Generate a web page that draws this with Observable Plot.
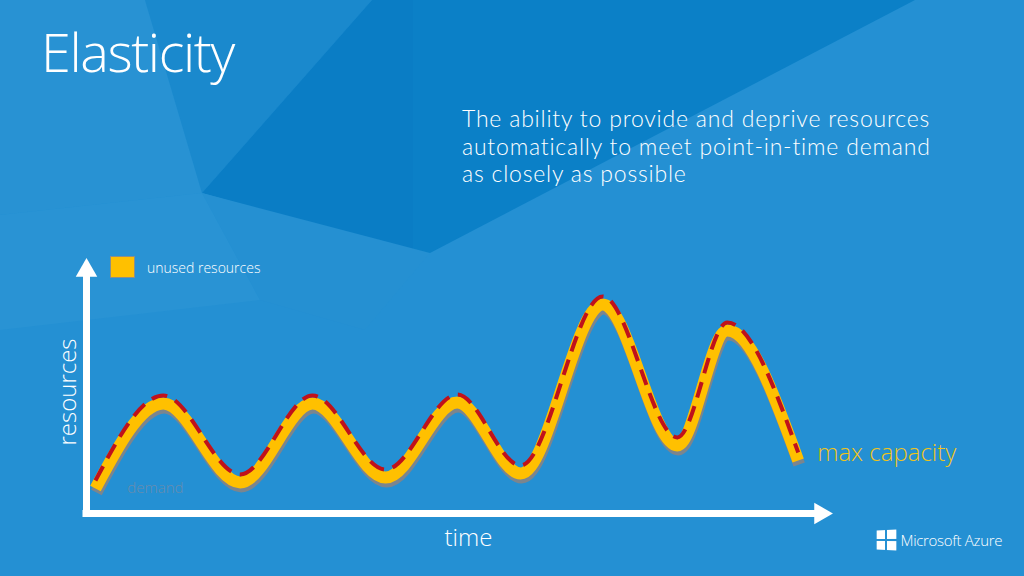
<!DOCTYPE html>
<html>
<head>
<meta charset="utf-8">
<script src="https://cdn.jsdelivr.net/npm/d3@7"></script>
<script src="https://cdn.jsdelivr.net/npm/@observablehq/plot@0.6"></script>
<style>
  html, body { margin: 0; padding: 0; background: #2490d3; }
  #slide { position: relative; width: 1024px; height: 576px; overflow: hidden; background: #2490d3;
           font-family: "Segoe UI Light", "Segoe UI", "Open Sans", "Noto Sans", sans-serif; font-weight: 300; color: #fff; }
  #bg { position: absolute; left: 0; top: 0; }
  #title { position: absolute; left: 41px; top: 24px; font-size: 54px; letter-spacing: -1.4px; line-height: 1; }
  #subtitle { position: absolute; left: 462px; top: 105px; font-family: Lato, "Open Sans", sans-serif; font-size: 23px; letter-spacing: 0.8px; }
  #subtitle div { height: 27.6px; line-height: 27.6px; white-space: nowrap; }
  #legend { position: absolute; left: 110px; top: 256px; display: flex; align-items: center; font-size: 14px; }
  #legend .sw { width: 23px; height: 20px; background: #ffc000; border: 1px solid #8a8f8c; margin-right: 12px; }
  #chart { position: absolute; left: 0; top: 0; }
  #azure { position: absolute; left: 876px; top: 530px; display: flex; align-items: center; font-size: 15px; letter-spacing: -0.3px; }
  #azure .logo { display: grid; grid-template-columns: 9px 9px; grid-template-rows: 9px 9px; gap: 1.5px; margin-right: 5px; transform: perspective(40px) rotateY(-12deg); }
  #azure .logo span { background: #fff; }
</style>
</head>
<body>
<div id="slide">
  <svg id="bg" width="1024" height="576">
    <polygon points="0,0 145,0 202,193 0,215" fill="#2892d3"/>
    <polygon points="145,0 372,0 202,193" fill="#1a89cd"/>
    <polygon points="372,0 413,0 413,253 202,193" fill="#0a7dc5"/>
    <polygon points="413,0 915,0 430,253 413,253" fill="#0b80c7"/>
    <polygon points="0,215 202,193 260,300 0,330" fill="#2993d4"/>
    <polygon points="202,193 430,253 365,330 260,300" fill="#2590d2"/>
  </svg>
  <div id="title">Elasticity</div>
  <div id="subtitle">
    <div>The ability to provide and deprive resources</div>
    <div>automatically to meet point-in-time demand</div>
    <div>as closely as possible</div>
  </div>
  <div id="chart"></div>
  <div id="legend"><div class="sw"></div><span>unused resources</span></div>
  <div id="azure"><div class="logo"><span></span><span></span><span></span><span></span></div><span>Microsoft Azure</span></div>
</div>
<script>
// Time (x) and provisioned capacity (y)
const time     = [1.2, 10.3, 20.6, 30.3, 40.1, 49.7, 58.2, 69.2, 79.2, 85.9, 95.4];
const capacity = [9.8, 43.1, 12.2, 43.1, 14.1, 43.5, 15.7, 82.0, 26.7, 71.8, 20.8];
const axisLabels = ["time", "resources"];
const seriesLabels = ["demand", "max capacity"];

const series = time.map((t, i) => ({time: t, capacity: capacity[i]}));
const font = "'Segoe UI Light','Segoe UI','Open Sans','Noto Sans',sans-serif";

const chart = Plot.plot({
  width: 1024,
  height: 576,
  marginLeft: 86,
  marginRight: 192,
  marginTop: 258,
  marginBottom: 63,
  style: {background: "transparent", overflow: "visible", fontFamily: font},
  x: {domain: [0, 100], axis: null},
  y: {domain: [0, 100], axis: null},
  marks: [
    // demand (gray shadow line)
    Plot.line(series, {x: "time", y: "capacity", curve: "monotone-x", stroke: "#7b858e", strokeWidth: 12, dy: 4, dx: 1, strokeLinecap: "butt"}),
    // unused resources band
    Plot.line(series, {x: "time", y: "capacity", curve: "monotone-x", stroke: "#ffc000", strokeWidth: 12, strokeLinecap: "butt"}),
    // max capacity dashed line
    Plot.line(series, {x: "time", y: "capacity", curve: "monotone-x", stroke: "#c0111b", strokeWidth: 4, dy: -8, strokeDasharray: "16,9", strokeLinecap: "butt"}),
    // axes with arrowheads
    Plot.ruleX([0], {stroke: "white", strokeWidth: 7, insetTop: 12, strokeLinecap: "square"}),
    Plot.ruleY([0], {stroke: "white", strokeWidth: 7, insetRight: 12, strokeLinecap: "square"}),
    Plot.dot([0], {frameAnchor: "top-left", symbol: "triangle", r: 8, fill: "white", stroke: null, dy: 12}),
    Plot.dot([0], {frameAnchor: "bottom-right", symbol: "triangle", r: 8, fill: "white", stroke: null, rotate: 90, dx: -12}),
    // axis labels
    Plot.text([axisLabels[0]], {text: d => d, frameAnchor: "bottom", dx: 9, dy: 25, lineAnchor: "middle", textAnchor: "middle", fill: "white", fontSize: 24, fontWeight: 300}),
    Plot.text([axisLabels[1]], {text: d => d, frameAnchor: "left", rotate: -90, dx: -18, dy: 6, lineAnchor: "middle", textAnchor: "middle", fill: "white", fontSize: 24, fontWeight: 300}),
    // series labels
    Plot.text(series, Plot.selectFirst({x: "time", y: "capacity", text: () => seriesLabels[0], dx: 60, dy: 0, fill: "#6a8cad", fontSize: 15, fontWeight: 300})),
    Plot.text(series, Plot.selectLast({x: "time", y: "capacity", text: () => seriesLabels[1], dx: 19, dy: -7, textAnchor: "start", fill: "#f0c419", fontSize: 24, letterSpacing: "0.3px", fontWeight: 300}))
  ]
});
document.getElementById("chart").appendChild(chart);
</script>
</body>
</html>
